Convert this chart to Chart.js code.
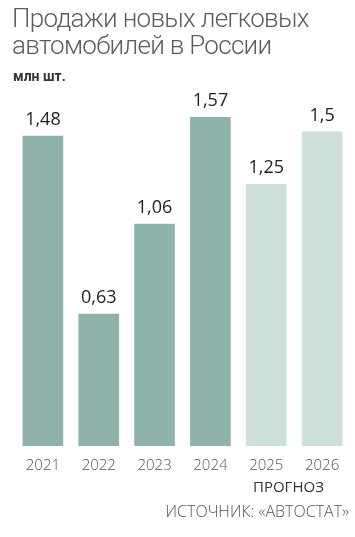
<!DOCTYPE html>
<html>
<head>
<meta charset="utf-8">
<script src="https://cdn.jsdelivr.net/npm/chart.js@4/dist/chart.umd.min.js"></script>
<style>
  html, body { margin: 0; padding: 0; background: #fff; }
  #wrap { position: relative; width: 355px; height: 537px; overflow: hidden; font-family: "Open Sans", "Noto Sans", sans-serif; }
  #title { position: absolute; left: 12px; top: 5px; font-family: Roboto, "Open Sans", sans-serif; font-size: 26px; font-weight: 300; line-height: 27px; letter-spacing: -0.7px; color: #5c5c5c; }
  #unit { position: absolute; left: 13px; top: 68px; font-family: Roboto, sans-serif; font-size: 14px; font-weight: 700; color: #333; }
  #forecast { position: absolute; left: 253px; top: 476px; font-size: 15px; color: #333; }
  #source { position: absolute; right: 6px; top: 500px; font-size: 16px; font-weight: 300; color: #555; }
  canvas { position: absolute; left: 0; top: 0; }
</style>
</head>
<body>
<div id="wrap">
  <canvas id="barChart" width="355" height="537"></canvas>
  <div id="title">Продажи новых легковых<br>автомобилей в России</div>
  <div id="unit">млн шт.</div>
  <div id="forecast">ПРОГНОЗ</div>
  <div id="source">ИСТОЧНИК: «АВТОСТАТ»</div>
</div>
<script>
// данные
const years = ["2021", "2022", "2023", "2024", "2025", "2026"];
const sales = [1.48, 0.63, 1.06, 1.57, 1.25, 1.5];
const valueLabels = ["1,48", "0,63", "1,06", "1,57", "1,25", "1,5"];
const isForecast = [false, false, false, false, true, true];

const factColor = "#8fb2aa";
const forecastColor = "#cee0db";

// подписи значений над столбцами
const valueLabelPlugin = {
  id: "valueLabels",
  afterDatasetsDraw(chart) {
    const ctx = chart.ctx;
    const meta = chart.getDatasetMeta(0);
    ctx.save();
    ctx.font = "18px 'Open Sans', 'Noto Sans', sans-serif";
    ctx.fillStyle = "#222";
    ctx.textAlign = "center";
    ctx.textBaseline = "alphabetic";
    meta.data.forEach((bar, i) => {
      ctx.fillText(valueLabels[i], bar.x, bar.y - 11);
    });
    ctx.restore();
  }
};

const ctx = document.getElementById("barChart").getContext("2d");
new Chart(ctx, {
  type: "bar",
  data: {
    labels: years,
    datasets: [{
      data: sales,
      backgroundColor: isForecast.map((f) => (f ? forecastColor : factColor)),
      barThickness: 40,
      borderWidth: 0
    }]
  },
  options: {
    responsive: false,
    animation: false,
    layout: { padding: { left: 15, right: 5, top: 90, bottom: 59 } },
    plugins: { legend: { display: false }, tooltip: { enabled: false } },
    scales: {
      x: {
        grid: { display: false },
        border: { display: false },
        ticks: {
          color: "#555",
          padding: 3,
          font: { family: "'Open Sans', 'Noto Sans', sans-serif", size: 15, weight: 300 }
        }
      },
      y: {
        display: false,
        min: 0,
        max: 1.7
      }
    }
  },
  plugins: [valueLabelPlugin]
});
</script>
</body>
</html>
